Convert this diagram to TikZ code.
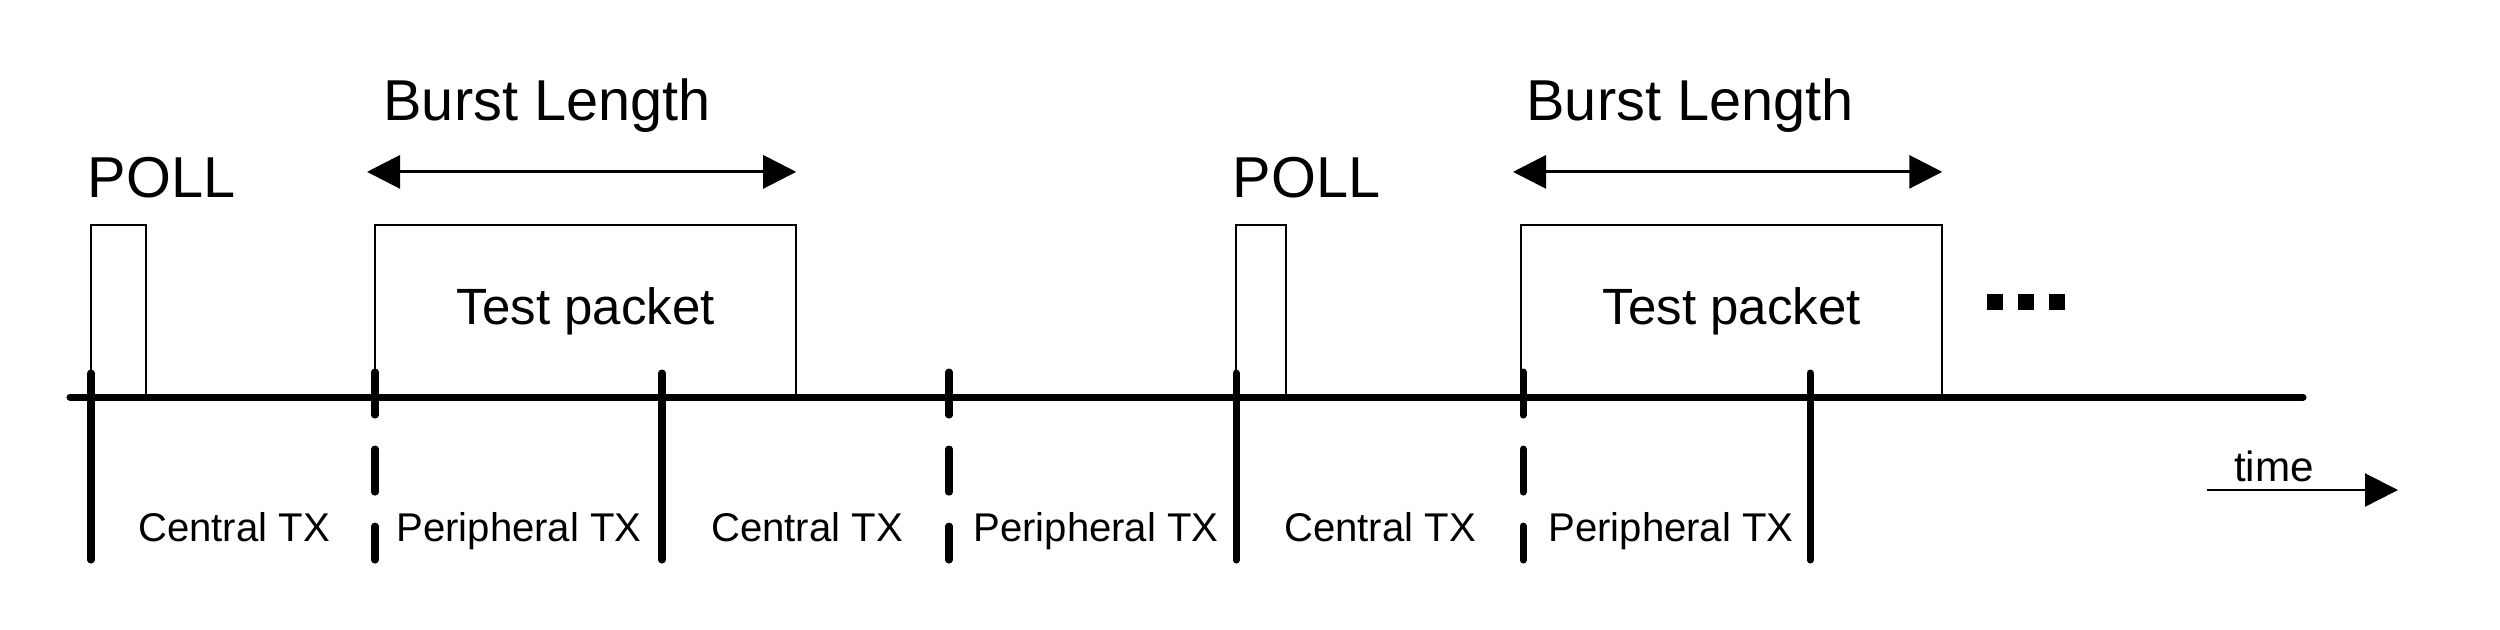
\documentclass[tikz,border=0pt]{standalone}
\usepackage{fontspec}
\setmainfont{Liberation Sans}
\usetikzlibrary{arrows.meta, positioning}
\tikzset{
  slotbox/.style={rectangle, draw, line width=0.6pt, inner sep=0pt,
    outer sep=0pt, anchor=south west},
  pktbox/.style={slotbox, minimum width=4.21cm, minimum height=1.72cm,
    font=\fontsize{14.5pt}{17pt}\selectfont},
  pollbox/.style={slotbox, minimum width=0.55cm, minimum height=1.72cm},
  timeline/.style={line width=2pt, line cap=round},
  slottick/.style={line width=2pt, line cap=round},
  dashtick/.style={slottick, dash pattern=on 0.43cm off 0.34cm},
  burstarrow/.style={{Triangle[length=0.33cm,width=0.33cm]}-{Triangle[length=0.33cm,width=0.33cm]},
    line width=0.85pt},
  timearrow/.style={-{Triangle[length=0.33cm,width=0.33cm]}, line width=0.6pt},
  biglabel/.style={inner sep=0pt, font=\fontsize{16.4pt}{19pt}\selectfont},
  txlabel/.style={inner sep=0pt, anchor=base, font=\fontsize{11.4pt}{13pt}\selectfont}
}

\begin{document}
\begin{tikzpicture}[x=0.01cm, y=-0.01cm]
  \useasboundingbox (0,0) rectangle (2500,629);

  % packets on air
  \node[pollbox] (poll1) at (91,397) {};
  \node[pktbox]  (pkt1)  at (375,397) {Test packet};
  \node[pollbox, minimum width=0.50cm] (poll2) at (1236,397) {};
  \node[pktbox]  (pkt2)  at (1521,397) {Test packet};

  \node[biglabel, anchor=base west] (polltxt1) at (87,197) {POLL};
  \node[biglabel, anchor=base west] (polltxt2) at (1232,197) {POLL};
  \node[biglabel, anchor=base] (burst1) at (547,120) {Burst Length};
  \node[biglabel, anchor=base] (burst2) at (1690,120) {Burst Length};

  % burst length arrows
  \draw[burstarrow] ([xshift=-0.08cm, yshift=0.53cm]pkt1.north west) -- ([yshift=0.53cm]pkt1.north east);
  \draw[burstarrow] ([xshift=-0.08cm, yshift=0.53cm]pkt2.north west) -- ([yshift=0.53cm]pkt2.north east);

  % more to come
  \foreach \x in {1987,2018,2049}
    \fill (\x,294) rectangle ++(16,16);

  % time axis
  \draw[timeline] (70,397) -- (2303,397);
  \foreach \x in {91,662,1236,1810}
    \draw[slottick] (\x,373) -- (\x,560);
  \foreach \x in {375,949,1523}
    \draw[dashtick] (\x,372) -- (\x,560);

  % slot labels
  \node[txlabel] (c1) at (234,541)  {Central TX};
  \node[txlabel] (p1) at (519,541)  {Peripheral TX};
  \node[txlabel] (c2) at (807,541)  {Central TX};
  \node[txlabel] (p2) at (1096,541) {Peripheral TX};
  \node[txlabel] (c3) at (1380,541) {Central TX};
  \node[txlabel] (p3) at (1671,541) {Peripheral TX};

  % time direction
  \coordinate (t0) at (2207,490);
  \coordinate (t1) at (2398,490);
  \draw[timearrow] (t0) -- (t1);
  \node[txlabel, font=\fontsize{12pt}{14pt}\selectfont] (time) at (2274,481) {time};
\end{tikzpicture}
\end{document}
